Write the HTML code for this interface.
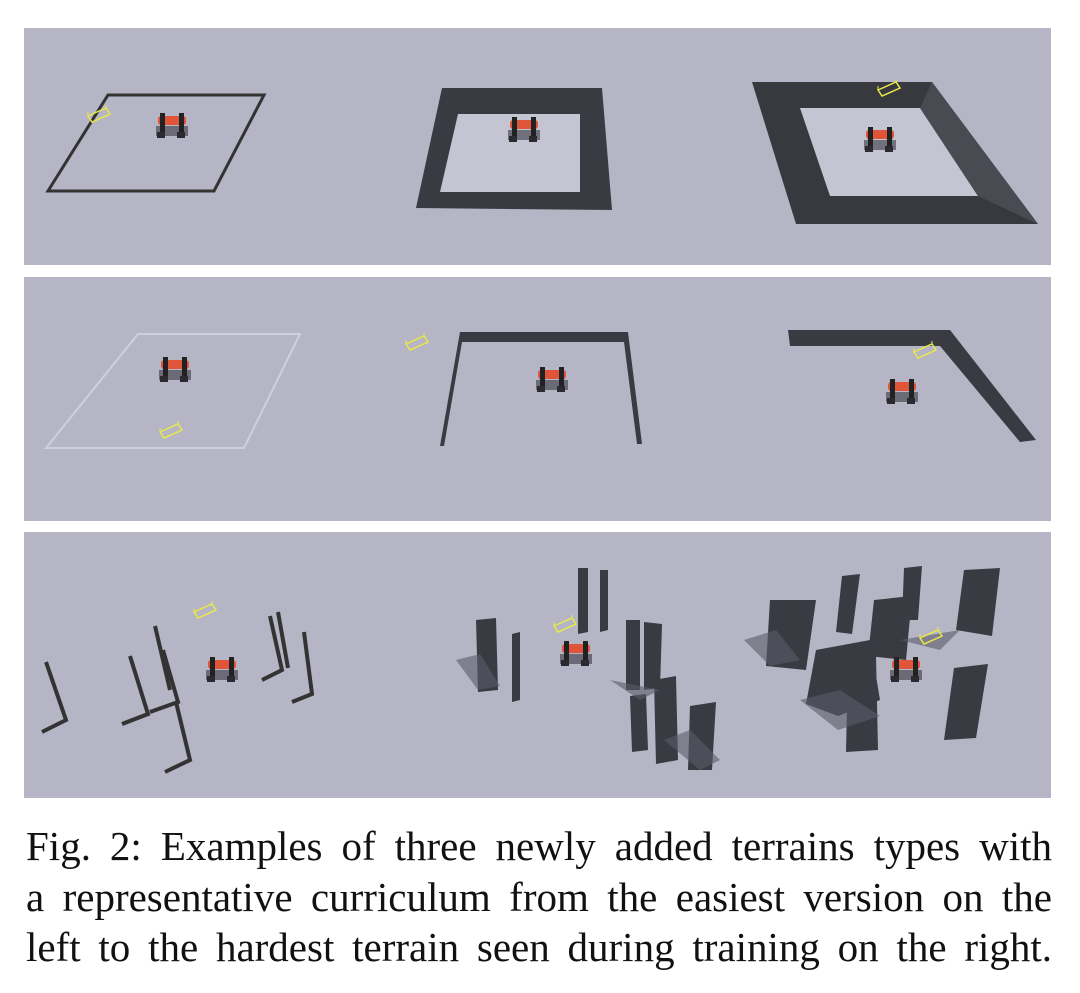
<!DOCTYPE html>
<html><head><style>
body{margin:0;background:#fff;width:1080px;height:993px;overflow:hidden}
svg{position:absolute;left:0;top:0}
.cap{position:absolute;left:26px;top:821px;width:1026px;font-family:"Liberation Serif",serif;font-size:41px;line-height:50.5px;color:#111}
.cap div{white-space:nowrap;text-align:justify;text-align-last:justify}
</style></head><body>
<svg width="1080" height="993" viewBox="0 0 1080 993">
<defs>
<g id="r">
<rect x="-16" y="-2" width="32" height="10" fill="#3a3a44" opacity="0.6"/>
<rect x="-14" y="-12" width="28" height="9" rx="3" fill="#e0553a"/>
<rect x="-12" y="-15" width="5" height="22" fill="#222"/>
<rect x="7" y="-15" width="5" height="22" fill="#222"/>
<rect x="-15" y="4" width="8" height="6" fill="#2a2a30"/>
<rect x="5" y="4" width="8" height="6" fill="#2a2a30"/>
</g>
<g id="b"><polygon points="0,8 18,0 22,6 4,14" fill="none" stroke="#e8e84a" stroke-width="1.5"/><line x1="0" y1="8" x2="0" y2="4" stroke="#e8e84a"/><line x1="18" y1="0" x2="18" y2="-3" stroke="#e8e84a"/></g>
</defs>
<rect x="24" y="28" width="1027" height="237" fill="#b5b5c5"/>
<rect x="24" y="277" width="1027" height="244" fill="#b5b5c5"/>
<rect x="24" y="532" width="1027" height="266" fill="#b5b5c5"/>
<polygon points="108,95 264,95 214,191 48,191" fill="none" stroke="#333" stroke-width="3"/>
<use href="#b" x="88" y="108"/>
<use href="#r" x="172" y="128"/>
<polygon points="442,88 602,88 612,210 416,208" fill="#3a3a42"/>
<polygon points="458,114 580,114 580,192 440,192" fill="#c4c4d2"/>
<use href="#r" x="524" y="132"/>
<polygon points="752,82 932,82 1038,224 796,224" fill="#38383f"/>
<polygon points="800,108 920,108 978,196 830,196" fill="#c4c4d2"/>
<polygon points="920,108 932,82 1038,224 978,196" fill="#4a4a52"/>
<use href="#b" x="878" y="82"/>
<use href="#r" x="880" y="142"/>
<polygon points="138,334 300,334 244,448 46,448" fill="none" stroke="#d0d0dc" stroke-width="2"/>
<use href="#b" x="406" y="336"/>
<use href="#b" x="160" y="424"/>
<use href="#r" x="175" y="372"/>
<polygon points="460,332 628,332 642,444 637,444 624,342 462,342 444,446 440,446" fill="#3a3a42"/>
<use href="#r" x="552" y="382"/>
<polygon points="788,330 950,330 1036,440 1020,442 940,346 790,346" fill="#3a3a42"/>
<use href="#b" x="914" y="344"/>
<use href="#r" x="902" y="394"/>
<g stroke="#333" stroke-width="4" fill="none">
<path d="M46,662 L66,720 L42,732"/><path d="M130,656 L148,714 L122,724"/><path d="M155,626 L170,690"/><path d="M163,650 L178,702 L150,712"/><path d="M176,702 L190,760 L165,772"/><path d="M270,616 L282,670 L262,680"/><path d="M278,612 L288,668"/><path d="M304,632 L312,694 L292,702"/>
</g>
<use href="#b" x="194" y="604"/>
<use href="#r" x="222" y="672"/>
<g fill="#3a3a42">
<polygon points="476,620 496,618 498,690 478,692"/>
<polygon points="512,634 520,632 520,700 512,702"/>
<polygon points="578,568 588,568 588,632 578,634"/>
<polygon points="600,570 608,570 608,630 600,632"/>
<polygon points="626,620 640,620 640,690 626,690"/>
<polygon points="644,622 662,624 660,688 644,690"/>
<polygon points="654,680 676,676 678,760 656,764"/>
<polygon points="690,706 716,702 712,770 688,770"/>
<polygon points="630,696 646,694 648,750 632,752"/>
<polygon points="770,600 816,600 806,670 766,666"/>
<polygon points="842,576 860,574 852,634 836,632"/>
<polygon points="874,600 912,596 906,660 868,656"/>
<polygon points="904,568 922,566 918,620 902,620"/>
<polygon points="964,570 1000,568 992,636 956,630"/>
<polygon points="816,650 870,640 880,700 838,716 806,704"/>
<polygon points="848,660 876,656 878,750 846,752"/>
<polygon points="954,668 988,664 976,738 944,740"/>
</g>
<g fill="#5c5c6a" opacity="0.6">
<polygon points="456,660 478,690 500,686 480,654"/>
<polygon points="610,680 640,700 660,690"/>
<polygon points="664,740 700,770 720,760 690,730"/>
<polygon points="744,640 770,666 800,660 776,630"/>
<polygon points="800,700 838,730 880,716 840,690"/>
<polygon points="900,640 940,650 960,630"/>
</g>
<use href="#b" x="554" y="618"/>
<use href="#r" x="576" y="656"/>
<use href="#b" x="920" y="630"/>
<use href="#r" x="906" y="672"/>
</svg>
<div class="cap">
<div>Fig. 2: Examples of three newly added terrains types with</div>
<div>a representative curriculum from the easiest version on the</div>
<div>left to the hardest terrain seen during training on the right.</div>
</div>
</body></html>
